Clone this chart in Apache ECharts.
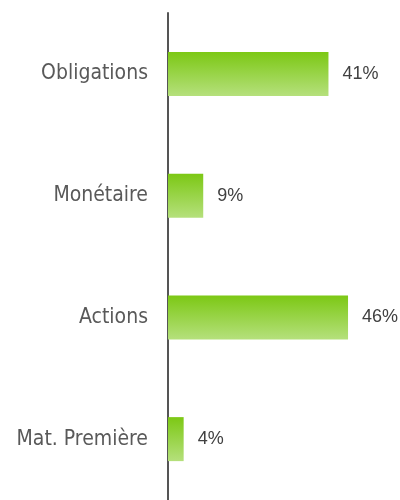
<!DOCTYPE html>
<html>
<head>
<meta charset="utf-8">
<script src="https://cdn.jsdelivr.net/npm/echarts@6/dist/echarts.min.js"></script>
<style>
  html, body { margin: 0; padding: 0; background: #fff; }
  #chart { width: 400px; height: 500px; }
</style>
</head>
<body>
<div id="chart"></div>
<script>
// données
var categories = ['Obligations', 'Monétaire', 'Actions', 'Mat. Première'];
var values = [41, 9, 46, 4];

var myChart = echarts.init(document.getElementById('chart'));
var option = {
  animation: false,
  grid: {
    left: 168,
    right: 5,
    top: 13,
    bottom: -6
  },
  xAxis: {
    type: 'value',
    min: 0,
    max: 58,
    show: false
  },
  yAxis: {
    type: 'category',
    inverse: true,
    data: categories,
    axisLine: { show: true, lineStyle: { color: '#555', width: 2 } },
    axisTick: { show: false },
    axisLabel: {
      margin: 20,
      fontFamily: 'DejaVu Sans Condensed',
      fontSize: 21,
      color: '#595959'
    }
  },
  series: [
    {
      type: 'bar',
      data: values,
      barWidth: 44,
      itemStyle: {
        color: new echarts.graphic.LinearGradient(0, 0, 0, 1, [
          { offset: 0, color: '#7cc814' },
          { offset: 1, color: '#b5e07c' }
        ])
      },
      label: {
        show: true,
        position: 'right',
        distance: 14,
        formatter: '{c}%',
        fontFamily: 'Liberation Sans',
        fontSize: 18,
        color: '#404040'
      }
    }
  ]
};
myChart.setOption(option);
</script>
</body>
</html>
